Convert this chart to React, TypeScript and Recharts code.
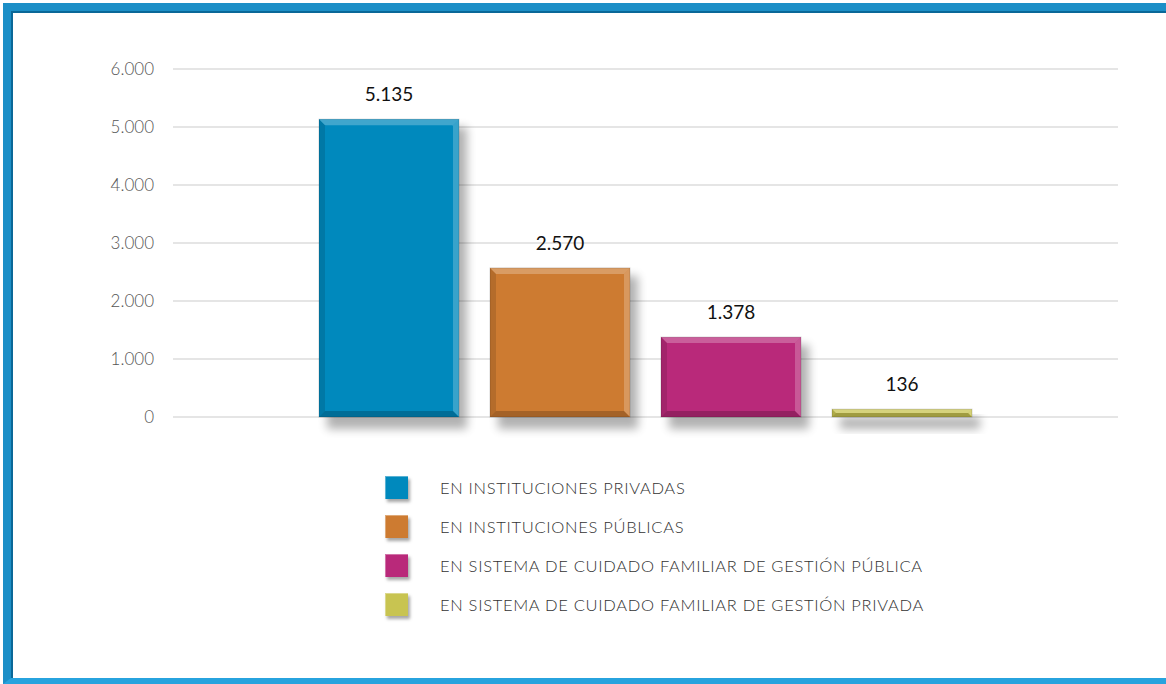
import React from 'react';
import { BarChart, Bar, XAxis, YAxis, CartesianGrid, LabelList } from 'recharts';

const seriesKeys = ['privadas', 'publicas', 'familiarPublica', 'familiarPrivada'];
const seriesNames = [
  'EN INSTITUCIONES PRIVADAS',
  'EN INSTITUCIONES PÚBLICAS',
  'EN SISTEMA DE CUIDADO FAMILIAR DE GESTIÓN PÚBLICA',
  'EN SISTEMA DE CUIDADO FAMILIAR DE GESTIÓN PRIVADA',
];
const seriesValues = [5135, 2570, 1378, 136];
const seriesColors = ['#0089bd', '#cd7b31', '#b9297a', '#c8c451'];
const yTicks = [0, 1000, 2000, 3000, 4000, 5000, 6000];

const row: Record<string, any> = { name: '' };
seriesKeys.forEach((k, i) => {
  row[k] = seriesValues[i];
});
const data = [row];

const fmt = (v: any) => String(v).replace(/\B(?=(\d{3})+(?!\d))/g, '.');

const font = 'Lato, "Open Sans", sans-serif';

const BevelBar = (props: any) => {
  const { x, y, width, height, fill, idx } = props;
  if (!width || !height) return null;
  const b = Math.min(6, height / 2);
  const fid = 'shadow' + idx;
  return (
    <g>
      <defs>
        <filter id={fid} x="-20%" y="-20%" width="140%" height="160%">
          <feGaussianBlur stdDeviation="5" />
        </filter>
      </defs>
      <rect x={x + 8} y={y + 8} width={width} height={height + 4} fill="#000" opacity={0.3} filter={`url(#${fid})`} />
      <rect x={x} y={y} width={width} height={height} fill={fill} />
      <polygon
        points={`${x},${y} ${x + width},${y} ${x + width - b},${y + b} ${x + b},${y + b}`}
        fill="#fff"
        opacity={0.25}
      />
      <polygon
        points={`${x + width},${y} ${x + width},${y + height} ${x + width - b},${y + height - b} ${x + width - b},${y + b}`}
        fill="#fff"
        opacity={0.22}
      />
      <polygon
        points={`${x},${y} ${x + b},${y + b} ${x + b},${y + height - b} ${x},${y + height}`}
        fill="#000"
        opacity={0.12}
      />
      <polygon
        points={`${x},${y + height} ${x + b},${y + height - b} ${x + width - b},${y + height - b} ${x + width},${y + height}`}
        fill="#000"
        opacity={0.2}
      />
      <rect x={x} y={y} width={width} height={height} fill="none" stroke="#000" strokeOpacity={0.15} strokeWidth={1} />
    </g>
  );
};

export default function App() {
  return (
    <div style={{ position: 'absolute', left: 0, top: 0, width: 1166, height: 684, background: '#fff', overflow: 'hidden' }}>
      {/* frame */}
      <div
        style={{
          position: 'absolute',
          left: 3,
          top: 3,
          width: 1180,
          height: 681,
          boxSizing: 'border-box',
          borderTop: '8px solid #1c8fc7',
          borderLeft: '8px solid #1c8fc7',
          borderBottom: '6px solid #27a3de',
          boxShadow: 'inset 2px 2px 0 #0a6898',
        }}
      />
      <div style={{ position: 'absolute', left: 0, top: 0 }}>
        <BarChart
          width={1166}
          height={684}
          data={data}
          margin={{ top: 69, right: 48, bottom: 267, left: 0 }}
          barGap={31}
          barSize={140}
        >
          <CartesianGrid vertical={false} stroke="#dcdcdc" strokeWidth={1.6} />
          <XAxis dataKey="name" hide />
          <YAxis
            width={173}
            domain={[0, 6000]}
            ticks={yTicks}
            tickFormatter={fmt}
            axisLine={false}
            tickLine={false}
            tickSize={6}
            tickMargin={13}
            tick={{ fill: '#555', fontSize: 17, fontFamily: font, fontWeight: 300 }}
          />
          {seriesKeys.map((k, i) => (
            <Bar
              key={k}
              dataKey={k}
              name={seriesNames[i]}
              fill={seriesColors[i]}
              isAnimationActive={false}
              shape={(p: any) => <BevelBar {...p} idx={i} />}
            >
              <LabelList
                dataKey={k}
                position="top"
                offset={18}
                formatter={fmt}
                style={{ fill: '#111', fontSize: 19, fontFamily: font }}
              />
            </Bar>
          ))}
        </BarChart>
      </div>
      {/* legend */}
      <div style={{ position: 'absolute', left: 385, top: 476, fontFamily: font }}>
        {seriesNames.map((n, i) => (
          <div key={n} style={{ display: 'flex', alignItems: 'center', height: 39 }}>
            <div
              style={{
                width: 23,
                height: 23,
                background: seriesColors[i],
                boxShadow: '2px 3px 3px rgba(0,0,0,0.35), inset 1px 1px 0 rgba(255,255,255,0.35)',
                marginTop: -16,
              }}
            />
            <span
              style={{
                marginLeft: 32,
                marginTop: -16,
                fontSize: 16.5,
                fontWeight: 300,
                color: '#333',
                letterSpacing: 0.7,
                whiteSpace: 'nowrap',
              }}
            >
              {n}
            </span>
          </div>
        ))}
      </div>
    </div>
  );
}
